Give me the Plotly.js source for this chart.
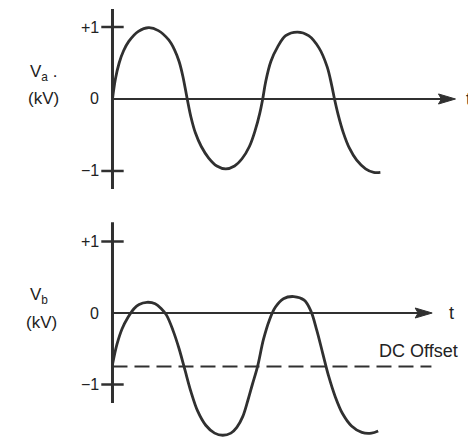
<!DOCTYPE html>
<html>
<head>
<meta charset="utf-8">
<script src="https://cdn.plot.ly/plotly-3.0.1.min.js"></script>
<style>
html,body{margin:0;padding:0;background:#fff;}
#chart{width:468px;height:437px;}
</style>
</head>
<body>
<div id="chart"></div>
<script>
// ---- data ----
// Top panel: V_a (kV) vs t (arbitrary time units)
const tA = [0, 0.4, 0.9, 1.5, 2.2, 3.5, 4.9, 6.2, 7.6, 8.4, 9.0, 9.5, 10.1,
            10.6, 11.2, 12.0, 13.0, 14.1, 15.3, 16.5, 17.5, 18.5, 19.3, 19.9, 20.3,
            20.7, 21.4, 22.3, 23.4, 25.0, 26.5, 27.9, 29.0, 29.6, 30.0,
            30.5, 31.2, 32.0, 33.0, 34.2, 35.3, 36.2];
const vA = [0, 0.28, 0.5, 0.67, 0.8, 0.94, 0.99, 0.95, 0.82, 0.68, 0.52, 0.32, 0,
            -0.25, -0.47, -0.66, -0.82, -0.93, -0.97, -0.93, -0.83, -0.66, -0.43, -0.2, 0,
            0.24, 0.52, 0.72, 0.88, 0.93, 0.88, 0.71, 0.45, 0.2, 0,
            -0.22, -0.47, -0.68, -0.85, -0.97, -1.02, -1.02];
// Bottom panel: V_b (kV) vs t
const tB = [0, 0.6, 1.3, 2.1, 2.9, 3.6, 4.64, 5.77, 6.6, 7.3, 8.2, 9.0, 9.8, 10.6, 11.5, 12.6, 13.8, 14.9,
            16.0, 16.8, 17.6, 18.3, 18.9, 19.6, 20.4, 21.2, 22.0, 23.1, 24.5, 25.9, 26.8,
            27.6, 28.4, 29.2, 30.1, 31.1, 32.3, 33.7, 35.0, 35.9];
const vB = [-0.72, -0.44, -0.22, -0.06, 0.06, 0.12, 0.15, 0.13, 0.06, -0.03, -0.25, -0.5, -0.8, -1.1, -1.37, -1.57, -1.68, -1.71,
            -1.68, -1.6, -1.45, -1.22, -1.0, -0.75, -0.37, -0.1, 0.08, 0.2, 0.23, 0.18, 0.03,
            -0.24, -0.56, -0.88, -1.17, -1.41, -1.58, -1.67, -1.68, -1.65];
const dcOffset = -0.75;
const dcEnd = 43.1;
const tickVals = [1, 0, -1];
const tickText = ['+1', '0', '\u22121'];

// axis extents (in data units)
const axA = {yTop: 1.25, yBot: -1.25, tEnd: 46.35};
const axB = {yTop: 1.27, yBot: -1.26, tEnd: 43.2};

const ink = '#303030';
const FONT = 'Liberation Sans, Arial, sans-serif';

const traces = [
  {x: tA, y: vA, xaxis: 'x', yaxis: 'y', mode: 'lines', line: {color: ink, width: 2.8, shape: 'spline', smoothing: 1}, hoverinfo: 'skip'},
  {x: tB, y: vB, xaxis: 'x2', yaxis: 'y2', mode: 'lines', line: {color: ink, width: 2.8, shape: 'spline', smoothing: 1}, hoverinfo: 'skip'},
  {x: [0, dcEnd], y: [dcOffset, dcOffset], xaxis: 'x2', yaxis: 'y2', mode: 'lines', line: {color: ink, width: 2, dash: '15px,7px'}, hoverinfo: 'skip'},
  {x: [0, 0], y: [tickVals[0], tickVals[2]], xaxis: 'x', yaxis: 'y', mode: 'markers', cliponaxis: false,
   marker: {symbol: 'line-ew', size: 16, line: {color: ink, width: 2.5}}, hoverinfo: 'skip'},
  {x: [0, 0], y: [tickVals[0], tickVals[2]], xaxis: 'x2', yaxis: 'y2', mode: 'markers', cliponaxis: false,
   marker: {symbol: 'line-ew', size: 16, line: {color: ink, width: 2.5}}, hoverinfo: 'skip'}
];

function arrowShapes(xr, yr, ax) {
  const L = 2.3, H = 0.07, N = 0.4;
  return [
    {type: 'line', xref: xr, yref: yr, x0: 0, x1: 0, y0: ax.yBot, y1: ax.yTop, line: {color: ink, width: 3}},
    {type: 'line', xref: xr, yref: yr, x0: 0, x1: ax.tEnd - 1.5, y0: 0, y1: 0, line: {color: ink, width: 1.8}},
    {type: 'path', xref: xr, yref: yr,
     path: `M ${ax.tEnd},0 L ${ax.tEnd - L},${H} L ${ax.tEnd - L + N},0 L ${ax.tEnd - L},${-H} Z`,
     fillcolor: ink, line: {color: ink, width: 1}}
  ];
}

const annotations = [];
function tickLabels(xr, yr) {
  tickVals.forEach((v, i) => {
    annotations.push({xref: xr, yref: yr, x: 0, y: v, text: tickText[i], showarrow: false,
      xanchor: 'right', yanchor: 'middle', xshift: -11, font: {family: FONT, size: 16, color: '#222'}});
  });
}
tickLabels('x', 'y');
tickLabels('x2', 'y2');

annotations.push(
  {xref: 'x', yref: 'y', x: -11.4, y: 0.36, text: 'V<sub>a</sub> .', showarrow: false, xanchor: 'left', yanchor: 'middle',
   font: {family: FONT, size: 17, color: '#222'}},
  {xref: 'x', yref: 'y', x: -9.3, y: 0.01, text: '(kV)', showarrow: false, xanchor: 'center', yanchor: 'middle',
   font: {family: FONT, size: 17, color: '#222'}},
  {xref: 'x2', yref: 'y2', x: -11.4, y: 0.24, text: 'V<sub>b</sub>', showarrow: false, xanchor: 'left', yanchor: 'middle',
   font: {family: FONT, size: 17, color: '#222'}},
  {xref: 'x2', yref: 'y2', x: -9.6, y: -0.13, text: '(kV)', showarrow: false, xanchor: 'center', yanchor: 'middle',
   font: {family: FONT, size: 17, color: '#222'}},
  {xref: 'x', yref: 'y', x: 47.5, y: 0, text: 't', showarrow: false, xanchor: 'left', yanchor: 'middle',
   font: {family: FONT, size: 18, color: '#222'}},
  {xref: 'x2', yref: 'y2', x: 45.2, y: 0, text: 't', showarrow: false, xanchor: 'left', yanchor: 'middle',
   font: {family: FONT, size: 18, color: '#222'}},
  {xref: 'x2', yref: 'y2', x: 35.7, y: -0.53, text: 'DC Offset', showarrow: false, xanchor: 'left', yanchor: 'middle',
   font: {family: FONT, size: 18, color: '#222'}}
);

const hiddenAxis = {showgrid: false, zeroline: false, showline: false, showticklabels: false, ticks: '', fixedrange: true};

const layout = {
  width: 468, height: 437,
  margin: {l: 0, r: 0, t: 0, b: 0},
  paper_bgcolor: '#ffffff', plot_bgcolor: '#ffffff',
  showlegend: false,
  xaxis: Object.assign({domain: [0, 1], range: [-15.2, 48.04], anchor: 'y'}, hiddenAxis),
  yaxis: Object.assign({domain: [0.5, 1], range: [-1.66, 1.375], anchor: 'x'}, hiddenAxis),
  xaxis2: Object.assign({domain: [0, 1], range: [-15.2, 48.04], anchor: 'y2'}, hiddenAxis),
  yaxis2: Object.assign({domain: [0, 0.5], range: [-1.7343, 1.3217], anchor: 'x2'}, hiddenAxis),
  shapes: arrowShapes('x', 'y', axA).concat(arrowShapes('x2', 'y2', axB)),
  annotations: annotations
};

Plotly.newPlot('chart', traces, layout, {staticPlot: true, displayModeBar: false});
</script>
</body>
</html>
